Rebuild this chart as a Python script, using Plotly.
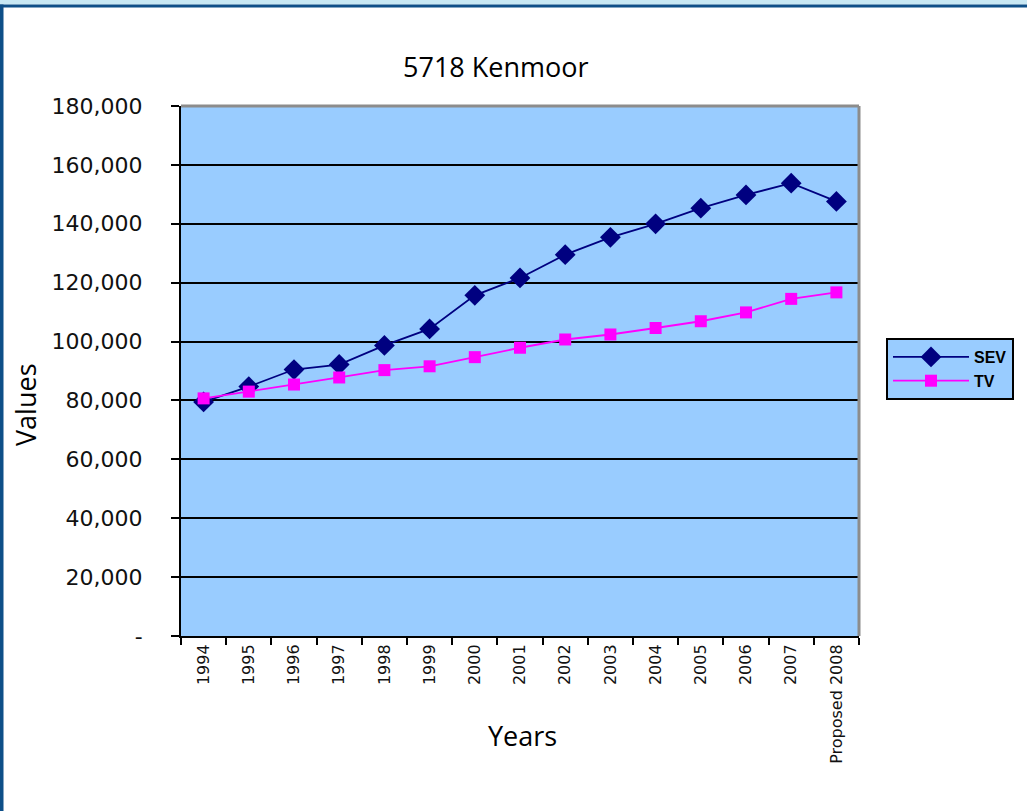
import plotly.graph_objects as go

# Assessment history for the property
years = ["1994", "1995", "1996", "1997", "1998", "1999", "2000", "2001",
         "2002", "2003", "2004", "2005", "2006", "2007", "Proposed 2008"]
sev = [79500, 84700, 90500, 92200, 98700, 104300, 115700, 121600,
       129500, 135400, 140000, 145300, 149800, 153800, 147600]
tv = [80700, 83000, 85400, 87800, 90300, 91600, 94700, 97900,
      100700, 102400, 104600, 106900, 109900, 114500, 116700]

y_ticks = [0, 20000, 40000, 60000, 80000, 100000, 120000, 140000, 160000, 180000]
y_tick_text = ["-"] + [f"{v:,}" for v in y_ticks[1:]]

W, H = 1027, 811
L, R, T, B = 181, 168, 106, 175
pw, ph = W - L - R, H - T - B


def px_x(x):
    return (x - L) / pw


def px_y(y):
    return (H - B - y) / ph


fig = go.Figure()
fig.add_trace(go.Scatter(
    x=years, y=sev, name="SEV", mode="lines+markers",
    line=dict(color="#000080", width=1.8),
    marker=dict(symbol="diamond", size=16, color="#000080"),
))
fig.add_trace(go.Scatter(
    x=years, y=tv, name="TV", mode="lines+markers",
    line=dict(color="#FF00FF", width=1.8),
    marker=dict(symbol="square", size=12, color="#FF00FF"),
))

fig.update_layout(
    width=W, height=H,
    margin=dict(l=L, r=R, t=T, b=B, pad=0),
    paper_bgcolor="white",
    plot_bgcolor="#99CCFF",
    showlegend=True,
    legend=dict(
        x=px_x(886), y=px_y(338),
        xanchor="left", yanchor="top",
        bgcolor="#99CCFF", bordercolor="black", borderwidth=2,
        font=dict(family="Arial, Liberation Sans", size=16, color="black",
                  weight="bold"),
        itemwidth=76,
        tracegroupgap=0,
    ),
    xaxis=dict(
        type="category", range=[-0.5, len(years) - 0.5],
        showgrid=False, showline=True, linecolor="black", linewidth=2,
        ticks="outside", ticklen=7, tickwidth=2, tickcolor="black",
        tickson="boundaries", tickangle=-90,
        tickfont=dict(family="DejaVu Sans", size=16, color="#111111"),
        zeroline=False,
    ),
    yaxis=dict(
        range=[0, 180000], tickvals=y_ticks, ticktext=y_tick_text,
        showgrid=True, gridcolor="black", gridwidth=2,
        showline=True, linecolor="black", linewidth=2,
        ticks="outside", ticklen=8, tickwidth=2, tickcolor="black",
        ticklabelstandoff=24,
        tickfont=dict(family="DejaVu Sans", size=22, color="#111111"),
        zeroline=False,
    ),
    annotations=[
        dict(text="5718 Kenmoor", xref="paper", yref="paper",
             x=px_x(496), y=px_y(67),
             showarrow=False, xanchor="center", yanchor="middle",
             font=dict(family="Open Sans", size=27, color="black")),
        dict(text="Years", xref="paper", yref="paper",
             x=px_x(522), y=px_y(735),
             showarrow=False, xanchor="center", yanchor="middle",
             font=dict(family="Open Sans", size=27, color="black")),
        dict(text="Values", xref="paper", yref="paper", textangle=-90,
             x=px_x(25), y=px_y(405),
             showarrow=False, xanchor="center", yanchor="middle",
             font=dict(family="Open Sans", size=27, color="black")),
    ],
    shapes=[
        # grey frame on top and right of the plotting area
        dict(type="line", xref="x domain", yref="y domain", x0=0, x1=1, y0=1, y1=1,
             line=dict(color="#8c8c8c", width=3)),
        dict(type="line", xref="x domain", yref="y domain", x0=1, x1=1, y0=0, y1=1,
             line=dict(color="#8c8c8c", width=3)),
        # page frame: light strip on top, dark blue border top and left
        dict(type="rect", xref="paper", yref="paper", layer="above",
             x0=px_x(0), x1=px_x(W), y0=px_y(0), y1=px_y(4.5),
             fillcolor="#C8E8F4", line=dict(width=0)),
        dict(type="rect", xref="paper", yref="paper", layer="above",
             x0=px_x(0), x1=px_x(W), y0=px_y(4.5), y1=px_y(7.5),
             fillcolor="#0E4F88", line=dict(width=0)),
        dict(type="rect", xref="paper", yref="paper", layer="above",
             x0=px_x(0), x1=px_x(3.5), y0=px_y(4.5), y1=px_y(H),
             fillcolor="#0E4F88", line=dict(width=0)),
    ],
)

fig.write_html("out.html")
